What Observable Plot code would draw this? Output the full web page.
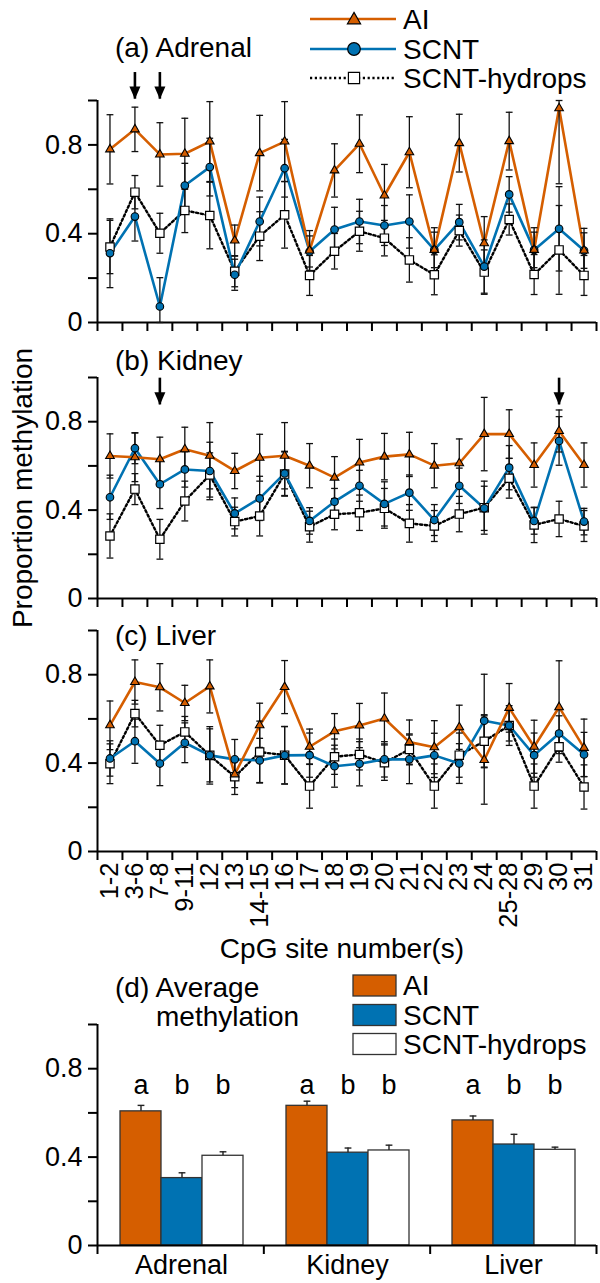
<!DOCTYPE html>
<html>
<head>
<meta charset="utf-8">
<script src="https://cdn.jsdelivr.net/npm/d3@7"></script>
<script src="https://cdn.jsdelivr.net/npm/@observablehq/plot@0.6"></script>
<style>
  body { margin: 0; background: #fff; }
  #fig { position: relative; width: 600px; height: 1283px; font-family: "Liberation Sans", Arial, sans-serif; }
  #fig > svg { position: absolute; left: 0; }
</style>
</head>
<body>
<div id="fig"></div>
<script>
// ---------- data ----------
const sites = ["1-2","3-6","7-8","9-11","12","13","14-15","16","17","18","19","20","21","22","23","24","25-28","29","30","31"];
const yTicks = [0, 0.2, 0.4, 0.6, 0.8, 1];

// (a) Adrenal
const adrenalAI      = [0.78, 0.87, 0.757, 0.76, 0.815, 0.369, 0.763, 0.815, 0.324, 0.685, 0.805, 0.572, 0.767, 0.327, 0.808, 0.357, 0.817, 0.327, 0.965, 0.324];
const adrenalAIErr   = [0.156, 0.10, 0.143, 0.16, 0.18, 0.07, 0.17, 0.18, 0.09, 0.12, 0.13, 0.14, 0.16, 0.08, 0.13, 0.12, 0.13, 0.08, 0.34, 0.08];
const adrenalSCNT    = [0.312, 0.477, 0.072, 0.617, 0.70, 0.215, 0.455, 0.695, 0.32, 0.419, 0.455, 0.437, 0.455, 0.327, 0.452, 0.252, 0.577, 0.327, 0.422, 0.324];
const adrenalSCNTErr = [0.155, 0.11, 0.13, 0.10, 0.13, 0.07, 0.11, 0.13, 0.07, 0.10, 0.10, 0.09, 0.12, 0.10, 0.08, 0.12, 0.08, 0.10, 0.19, 0.10];
const adrenalHyd     = [0.34, 0.587, 0.402, 0.505, 0.482, 0.231, 0.389, 0.485, 0.212, 0.321, 0.411, 0.38, 0.282, 0.215, 0.414, 0.227, 0.464, 0.216, 0.327, 0.212];
const adrenalHydErr  = [0.12, 0.075, 0.09, 0.10, 0.15, 0.07, 0.11, 0.15, 0.09, 0.08, 0.09, 0.08, 0.10, 0.09, 0.07, 0.10, 0.07, 0.09, 0.20, 0.09];

// (b) Kidney
const kidneyAI      = [0.645, 0.639, 0.63, 0.675, 0.646, 0.577, 0.637, 0.646, 0.601, 0.547, 0.615, 0.642, 0.652, 0.601, 0.612, 0.744, 0.744, 0.604, 0.758, 0.604];
const kidneyAIErr   = [0.10, 0.11, 0.10, 0.10, 0.15, 0.08, 0.106, 0.15, 0.10, 0.095, 0.105, 0.105, 0.10, 0.10, 0.11, 0.166, 0.11, 0.10, 0.095, 0.10];
const kidneySCNT    = [0.458, 0.68, 0.517, 0.584, 0.577, 0.385, 0.453, 0.566, 0.351, 0.438, 0.51, 0.428, 0.479, 0.355, 0.51, 0.408, 0.592, 0.351, 0.713, 0.348];
const kidneySCNTErr = [0.10, 0.07, 0.11, 0.08, 0.13, 0.07, 0.10, 0.10, 0.06, 0.06, 0.07, 0.10, 0.08, 0.07, 0.08, 0.10, 0.10, 0.06, 0.11, 0.06];
const kidneyHyd     = [0.283, 0.495, 0.268, 0.441, 0.559, 0.348, 0.373, 0.563, 0.325, 0.381, 0.388, 0.408, 0.34, 0.328, 0.382, 0.411, 0.544, 0.333, 0.36, 0.328];
const kidneyHydErr  = [0.10, 0.07, 0.09, 0.09, 0.10, 0.065, 0.09, 0.10, 0.07, 0.07, 0.08, 0.09, 0.085, 0.07, 0.08, 0.12, 0.09, 0.08, 0.08, 0.07];

// (c) Liver
const liverAI      = [0.571, 0.767, 0.743, 0.672, 0.747, 0.349, 0.571, 0.744, 0.474, 0.544, 0.57, 0.602, 0.495, 0.472, 0.562, 0.414, 0.65, 0.474, 0.653, 0.469];
const liverAIErr   = [0.11, 0.10, 0.107, 0.08, 0.12, 0.06, 0.10, 0.12, 0.08, 0.08, 0.10, 0.115, 0.10, 0.12, 0.10, 0.20, 0.11, 0.12, 0.21, 0.13];
const liverSCNT    = [0.421, 0.499, 0.398, 0.492, 0.435, 0.417, 0.412, 0.435, 0.436, 0.386, 0.397, 0.417, 0.417, 0.435, 0.398, 0.592, 0.57, 0.436, 0.534, 0.439];
const liverSCNTErr = [0.08, 0.10, 0.10, 0.09, 0.13, 0.09, 0.10, 0.13, 0.10, 0.095, 0.10, 0.08, 0.11, 0.10, 0.09, 0.21, 0.09, 0.10, 0.08, 0.10];
const liverHyd     = [0.397, 0.624, 0.481, 0.541, 0.435, 0.338, 0.45, 0.436, 0.296, 0.429, 0.439, 0.402, 0.462, 0.296, 0.436, 0.499, 0.57, 0.296, 0.474, 0.292];
const liverHydErr  = [0.09, 0.06, 0.09, 0.07, 0.12, 0.08, 0.14, 0.13, 0.10, 0.08, 0.07, 0.08, 0.07, 0.10, 0.10, 0.12, 0.07, 0.10, 0.07, 0.10];

// arrows (site labels)
const arrowSitesA = ["3-6", "7-8"];
const arrowSitesB = ["7-8", "30"];

// (d) Average methylation
const tissues = ["Adrenal", "Kidney", "Liver"];
const groups = ["AI", "SCNT", "SCNT-hydrops"];
const avgAI = [0.607, 0.632, 0.566];
const avgAIErr = [0.027, 0.021, 0.020];
const avgSCNT = [0.305, 0.420, 0.457];
const avgSCNTErr = [0.024, 0.021, 0.046];
const avgHyd = [0.406, 0.430, 0.433];
const avgHydErr = [0.018, 0.024, 0.012];
const avgLetters = ["a", "b", "b"];

// ---------- style ----------
const ORANGE = "#D55E00", BLUE = "#0072B2";
const FONT = "Liberation Sans, Arial, Helvetica, sans-serif";
const fig = document.getElementById("fig");
const fmtY = d => (Math.round(d * 10) % 4 === 0) ? (d === 0 ? "0" : d.toFixed(1)) : "";
const capSym = {draw(ctx, size) { const w = Math.sqrt(size / Math.PI); ctx.moveTo(-w, 0); ctx.lineTo(w, 0); }};
const headSym = {draw(ctx, size) { const r = Math.sqrt(size / Math.PI); ctx.moveTo(0, 0); ctx.lineTo(-r, -2.3 * r); ctx.lineTo(r, -2.3 * r); ctx.closePath(); }};
const plotStyle = {fontFamily: FONT, fontSize: "27px", background: "transparent", overflow: "visible", color: "#000"};

function rowsOf(key, mean, err) {
  return mean.map((v, i) => ({key, site: sites[i], x: i + 0.5, v,
    lo: Math.max(0, v - err[i]), hi: Math.min(1, v + err[i])}));
}

function place(svg, top) {
  svg.style.position = "absolute";
  svg.style.top = top + "px";
  svg.style.left = "0px";
  fig.appendChild(svg);
}

function linePanel(cfg) {
  const ai = rowsOf("AI", cfg.ai, cfg.aiErr);
  const sc = rowsOf("SCNT", cfg.sc, cfg.scErr);
  const hy = rowsOf("SCNT-hydrops", cfg.hy, cfg.hyErr);
  const all = [...hy, ...sc, ...ai];
  const arrows = cfg.arrows.map(s => ({x: sites.indexOf(s) + 0.5, y1: cfg.arrowSpan[0], y2: cfg.arrowSpan[1]}));
  return Plot.plot({
    width: 600, height: cfg.height,
    marginLeft: 97, marginRight: 4, marginTop: cfg.mt, marginBottom: cfg.mb,
    x: {domain: [0, sites.length]},
    y: {domain: [0, 1]},
    style: plotStyle,
    marks: [
      Plot.axisY({ticks: yTicks, tickFormat: fmtY, tickSize: 9, tickPadding: 6, strokeWidth: 2, fontSize: 27, label: null}),
      Plot.axisX({ticks: d3.range(sites.length + 1), tickFormat: () => "", tickSize: 9, strokeWidth: 2, label: null}),
      cfg.labels ? Plot.axisX({ticks: sites.map((s, i) => i + 0.5), tickFormat: v => sites[Math.floor(v)],
        tickSize: 0, tickPadding: 11, tickRotate: -90, fontSize: 25.5, label: null}) : null,
      Plot.ruleX([0], {strokeWidth: 2}),
      Plot.ruleY([0], {strokeWidth: 2}),
      Plot.line(hy, {x: "x", y: "v", stroke: "#000", strokeWidth: 2.4, strokeDasharray: "2.2,2.6"}),
      Plot.line(sc, {x: "x", y: "v", stroke: BLUE, strokeWidth: 2.6}),
      Plot.line(ai, {x: "x", y: "v", stroke: ORANGE, strokeWidth: 2.6}),
      Plot.ruleX(all, {x: "x", y1: "lo", y2: "hi", stroke: "#111", strokeWidth: 1.3}),
      Plot.dot(all, {x: "x", y: "lo", symbol: capSym, r: 3.4, stroke: "#111", fill: "none", strokeWidth: 1.3}),
      Plot.dot(all, {x: "x", y: "hi", symbol: capSym, r: 3.4, stroke: "#111", fill: "none", strokeWidth: 1.3}),
      Plot.dot(hy, {x: "x", y: "v", symbol: "square", r: 4.7, fill: "#fff", stroke: "#000", strokeWidth: 1.2}),
      Plot.dot(sc, {x: "x", y: "v", symbol: "circle", r: 3.8, fill: BLUE, stroke: "#000", strokeWidth: 1.1}),
      Plot.dot(ai, {x: "x", y: "v", symbol: "triangle", r: 3.2, fill: ORANGE, stroke: "#000", strokeWidth: 1.1}),
      Plot.ruleX(arrows, {x: "x", y1: "y1", y2: "y2", stroke: "#000", strokeWidth: 2.6}),
      Plot.dot(arrows, {x: "x", y: "y2", symbol: headSym, r: 5.5, fill: "#000", stroke: "none"})
    ]
  });
}

// Panel (a)
place(linePanel({ai: adrenalAI, aiErr: adrenalAIErr, sc: adrenalSCNT, scErr: adrenalSCNTErr, hy: adrenalHyd, hyErr: adrenalHydErr,
  height: 340, mt: 100, mb: 18, labels: false, arrows: arrowSitesA, arrowSpan: [1.126, 1.006]}), 0);
// Panel (b)
place(linePanel({ai: kidneyAI, aiErr: kidneyAIErr, sc: kidneySCNT, scErr: kidneySCNTErr, hy: kidneyHyd, hyErr: kidneyHydErr,
  height: 270, mt: 37, mb: 12, labels: false, arrows: arrowSitesB, arrowSpan: [0.997, 0.876]}), 340);
// Panel (c)
place(linePanel({ai: liverAI, aiErr: liverAIErr, sc: liverSCNT, scErr: liverSCNTErr, hy: liverHyd, hyErr: liverHydErr,
  height: 350, mt: 20, mb: 109, labels: true, arrows: [], arrowSpan: [0, 0]}), 610);

// Panel (d) bars
const groupMeans = {"AI": avgAI, "SCNT": avgSCNT, "SCNT-hydrops": avgHyd};
const groupErrs = {"AI": avgAIErr, "SCNT": avgSCNTErr, "SCNT-hydrops": avgHydErr};
const barRows = tissues.flatMap((t, ti) => groups.map((g, gi) => ({
  tissue: t, group: g, v: groupMeans[g][ti], top: groupMeans[g][ti] + groupErrs[g][ti], letter: avgLetters[gi]
})));
const letterLevel = 0.724;
const barMargins = {width: 600, height: 323, marginLeft: 97, marginRight: 4, marginTop: 64, marginBottom: 38};

place(Plot.plot({
  ...barMargins,
  fx: {domain: tissues, padding: 0, axis: null, label: null},
  x: {domain: groups, paddingInner: 0, paddingOuter: 0.51, axis: null, label: null},
  y: {domain: [0, 1], axis: null},
  color: {domain: groups, range: [ORANGE, BLUE, "#ffffff"]},
  style: plotStyle,
  marks: [
    Plot.barY(barRows, {fx: "tissue", x: "group", y: "v", fill: "group", stroke: "#333", strokeWidth: 1.3}),
    Plot.ruleX(barRows, {fx: "tissue", x: "group", y1: "v", y2: "top", stroke: "#222", strokeWidth: 1.4}),
    Plot.dot(barRows, {fx: "tissue", x: "group", y: "top", symbol: capSym, r: 3.4, stroke: "#222", fill: "none", strokeWidth: 1.4}),
    Plot.text(barRows, {fx: "tissue", x: "group", y: () => letterLevel, text: "letter", fontSize: 27, lineAnchor: "middle"}),
    Plot.axisFx({anchor: "bottom", tickSize: 0, tickPadding: 9, fontSize: 27, label: null})
  ]
}), 960);

place(Plot.plot({
  ...barMargins,
  x: {domain: [0, tissues.length]},
  y: {domain: [0, 1]},
  style: plotStyle,
  marks: [
    Plot.axisY({ticks: yTicks, tickFormat: fmtY, tickSize: 9, tickPadding: 6, strokeWidth: 2, fontSize: 27, label: null}),
    Plot.axisX({ticks: d3.range(tissues.length + 1), tickFormat: () => "", tickSize: 9, strokeWidth: 2, label: null}),
    Plot.ruleX([0], {strokeWidth: 2}),
    Plot.ruleY([0], {strokeWidth: 2})
  ]
}), 960);

// ---------- titles, axis labels, legends ----------
const ann = d3.create("svg").attr("width", 600).attr("height", 1283)
  .style("position", "absolute").style("top", "0px").style("left", "0px")
  .style("pointer-events", "none").style("font-family", FONT);

function label(x, y, text, size = 28, anchor = "start", rotate = 0) {
  const t = ann.append("text").attr("x", x).attr("y", y).attr("font-size", size)
    .attr("text-anchor", anchor).attr("dominant-baseline", "central").attr("fill", "#000").text(text);
  if (rotate) t.attr("transform", `rotate(${rotate},${x},${y})`);
}

label(115, 47, "(a) Adrenal");
label(115, 360, "(b) Kidney");
label(115, 635, "(c) Liver");
label(22, 488, "Proportion methylation", 28, "middle", -90);
label(342, 948, "CpG site number(s)", 28, "middle");
label(115, 987, "(d) Average");
label(156, 1016, "methylation");

// top legend
const legendRows = [
  {name: "AI", y: 19, stroke: ORANGE, dash: null, sym: d3.symbolTriangle, size: 75, fill: ORANGE},
  {name: "SCNT", y: 49, stroke: BLUE, dash: null, sym: d3.symbolCircle, size: 125, fill: BLUE},
  {name: "SCNT-hydrops", y: 78, stroke: "#000", dash: "2.2,2.6", sym: d3.symbolSquare, size: 125, fill: "#fff"}
];
legendRows.forEach(r => {
  ann.append("line").attr("x1", 310).attr("x2", 396).attr("y1", r.y).attr("y2", r.y)
    .attr("stroke", r.stroke).attr("stroke-width", r.dash ? 2.4 : 2.6).attr("stroke-dasharray", r.dash);
  ann.append("path").attr("d", d3.symbol(r.sym, r.size)()).attr("transform", `translate(354,${r.y + (r.sym === d3.symbolTriangle ? 1 : 0)})`)
    .attr("fill", r.fill).attr("stroke", "#000").attr("stroke-width", 1.2);
  label(403, r.y, r.name);
});

// bar legend
const barLegend = [
  {name: "AI", y: 985.5, fill: ORANGE},
  {name: "SCNT", y: 1015, fill: BLUE},
  {name: "SCNT-hydrops", y: 1044, fill: "#fff"}
];
barLegend.forEach(r => {
  ann.append("rect").attr("x", 353).attr("y", r.y - 10.5).attr("width", 43).attr("height", 21)
    .attr("fill", r.fill).attr("stroke", "#333").attr("stroke-width", 1.3);
  label(403, r.y, r.name);
});

fig.appendChild(ann.node());
</script>
</body>
</html>
